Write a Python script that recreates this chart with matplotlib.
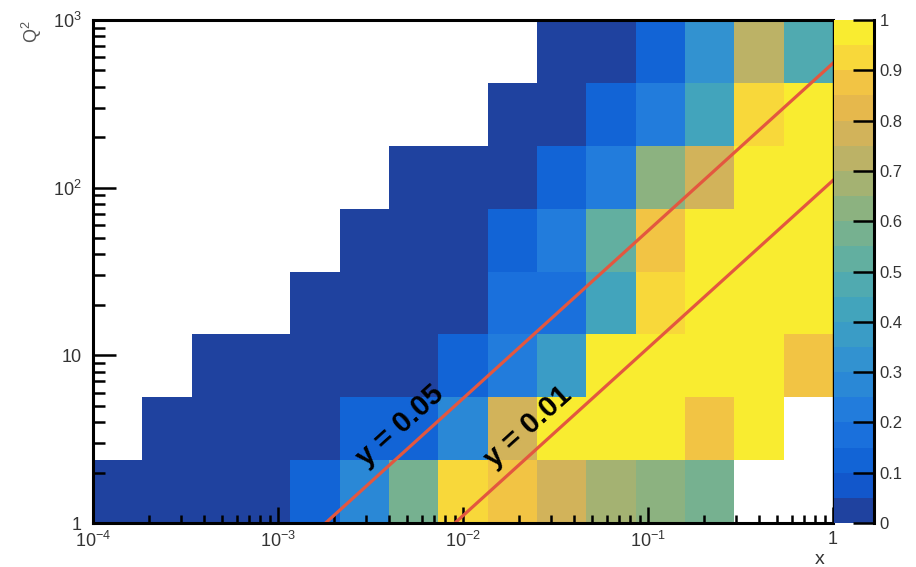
import numpy as np
import matplotlib
matplotlib.use('Agg')
import matplotlib.pyplot as plt
from matplotlib.colors import ListedColormap, BoundaryNorm

plt.rcParams['font.family'] = ['Liberation Sans', 'DejaVu Sans']
plt.rcParams['mathtext.fontset'] = 'custom'
plt.rcParams['mathtext.rm'] = 'Liberation Sans'
plt.rcParams['mathtext.it'] = 'Liberation Sans:italic'
plt.rcParams['mathtext.bf'] = 'Liberation Sans:bold'

# binning: 15 log bins in x (1e-4 .. 1), 8 log bins in Q2 (1 .. 1000)
x_edges = np.logspace(-4, 0, 16)
q2_edges = np.logspace(0, 3, 9)

nan = np.nan
# purity per bin, bottom Q2 row first, columns from low x to high x
row0 = [0.02, 0.02, 0.02, 0.02, 0.12, 0.30, 0.60, 0.93, 0.87, 0.77, 0.70, 0.62, 0.55, nan, nan]
row1 = [nan, 0.02, 0.02, 0.02, 0.02, 0.10, 0.13, 0.30, 0.78, 0.97, 0.97, 0.97, 0.87, 0.97, nan]
row2 = [nan, nan, 0.02, 0.02, 0.02, 0.02, 0.02, 0.12, 0.20, 0.36, 0.97, 0.97, 0.97, 0.97, 0.87]
row3 = [nan, nan, nan, nan, 0.02, 0.02, 0.02, 0.02, 0.18, 0.17, 0.40, 0.92, 0.98, 0.98, 0.98]
row4 = [nan, nan, nan, nan, nan, 0.02, 0.02, 0.02, 0.10, 0.20, 0.50, 0.88, 0.98, 0.98, 0.98]
row5 = [nan, nan, nan, nan, nan, nan, 0.02, 0.02, 0.02, 0.10, 0.20, 0.62, 0.78, 0.98, 0.98]
row6 = [nan, nan, nan, nan, nan, nan, nan, nan, 0.02, 0.02, 0.10, 0.20, 0.40, 0.92, 0.98]
row7 = [nan, nan, nan, nan, nan, nan, nan, nan, nan, 0.02, 0.02, 0.15, 0.33, 0.72, 0.47]
purity = np.ma.masked_invalid(np.array([row0, row1, row2, row3, row4, row5, row6, row7]))

# inelasticity lines Q2 = y * s * x
line_y = [0.05, 0.01]
line_labels = ['y = 0.05', 'y = 0.01']
label_x = [4.6e-3, 2.25e-2]
s_beam = 11060.0

x_ticks = [1e-4, 1e-3, 1e-2, 1e-1, 1]
x_ticklabels = ['$10^{-4}$', '$10^{-3}$', '$10^{-2}$', '$10^{-1}$', '1']
y_ticks = [1, 10, 100, 1000]
y_ticklabels = ['1', '10', '$10^{2}$', '$10^{3}$']
cb_ticks = [0, 0.1, 0.2, 0.3, 0.4, 0.5, 0.6, 0.7, 0.8, 0.9, 1.0]
cb_ticklabels = ['0', '0.1', '0.2', '0.3', '0.4', '0.5', '0.6', '0.7', '0.8', '0.9', '1']

# 20 level palette (ROOT bird-like)
palette = ['#1f429f', '#1257cb', '#1264d6', '#1a70dc', '#227cdc', '#2a88d6', '#3292d0',
           '#3a9cc6', '#42a4bc', '#50aab0', '#62afa0', '#76b190', '#8cb280', '#a4b272',
           '#bcb266', '#d2b35a', '#e6b84c', '#f2c444', '#f8d83a', '#f9ec30']
cmap = ListedColormap(palette)
norm = BoundaryNorm(np.linspace(0, 1, 21), cmap.N)

fig = plt.figure(figsize=(9.16, 5.67), dpi=100)
ax = fig.add_axes([0.1015, 0.0776, 0.8079, 0.8871])
cax = fig.add_axes([0.9105, 0.0776, 0.0437, 0.8871])

mesh = ax.pcolormesh(x_edges, q2_edges, purity, cmap=cmap, norm=norm)
ax.set_xscale('log')
ax.set_yscale('log')
ax.set_xlim(1e-4, 1)
ax.set_ylim(1, 1000)

xs = np.logspace(-4, 0, 50)
for yv, lab, lx in zip(line_y, line_labels, label_x):
    ax.plot(xs, yv * s_beam * xs, color='#e3573f', lw=2.3)
    ax.text(lx, 1.5 * yv * s_beam * lx, lab, rotation=42, ha='center', va='center',
            fontsize=21, fontweight='bold', color='black')

ax.set_xticks(x_ticks)
ax.set_xticklabels(x_ticklabels)
ax.set_yticks(y_ticks)
ax.set_yticklabels(y_ticklabels)
ax.xaxis.set_minor_formatter(matplotlib.ticker.NullFormatter())
ax.yaxis.set_minor_formatter(matplotlib.ticker.NullFormatter())
ax.tick_params(which='both', direction='in', top=False, right=False, width=1.8,
               color='black', labelcolor='#333333', labelsize=13)
ax.tick_params(axis='y', which='major', length=16.5, pad=8)
ax.tick_params(axis='y', which='minor', length=8.6)
ax.tick_params(axis='x', which='major', length=11.5, pad=6)
ax.tick_params(axis='x', which='minor', length=5.8)
for side in ['left', 'bottom', 'top']:
    ax.spines[side].set_linewidth(2.2)
ax.spines['right'].set_linewidth(1.0)

cb = fig.colorbar(mesh, cax=cax, ticks=cb_ticks)
cb.outline.set_visible(False)
cb.set_ticklabels(cb_ticklabels)
cax.tick_params(direction='in', length=15, width=1.8, labelsize=12, labelcolor='#333333', pad=4)
cax.minorticks_off()
cax.plot([1, 1], [0, 1], transform=cax.transAxes, color='black', lw=2.2, clip_on=False)

fig.text(820 / 916, 1 - 559 / 567, 'x', ha='center', va='center', fontsize=14, color='#333333')
fig.text(32 / 916, 1 - 32 / 567, 'Q$^2$', rotation=90, ha='center', va='center', fontsize=13, color='#555555')

fig.savefig('out.png', dpi=100)
